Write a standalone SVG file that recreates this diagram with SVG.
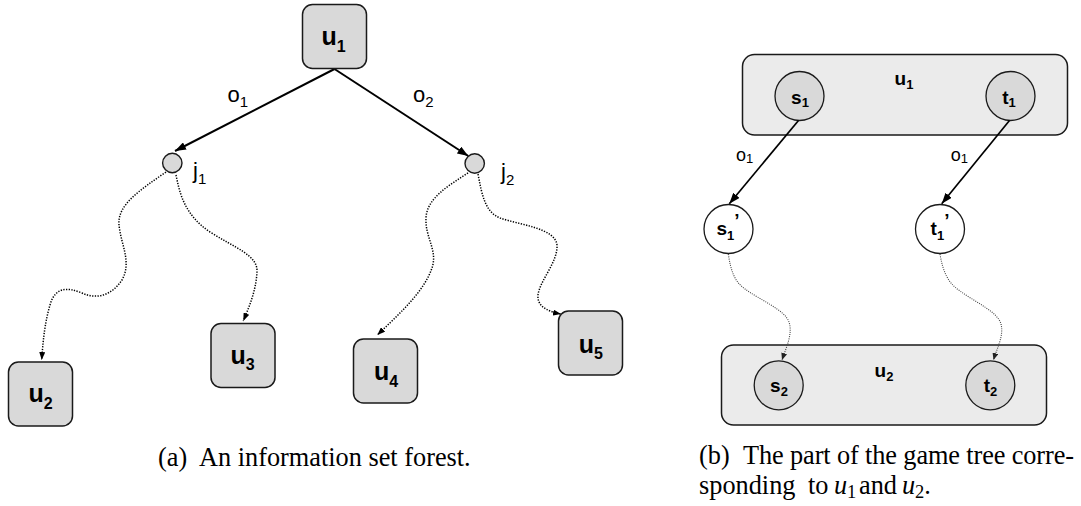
<svg xmlns="http://www.w3.org/2000/svg" width="1081" height="506" viewBox="0 0 1081 506">
  <style>
    .box { fill: #d9d9d9; stroke: #1a1a1a; stroke-width: 1.5; }
    .set { fill: #ebebeb; stroke: #1a1a1a; stroke-width: 1.5; }
    .st { fill: #d9d9d9; stroke: #1a1a1a; stroke-width: 1.3; }
    .st-open { fill: #ffffff; stroke: #1a1a1a; stroke-width: 1.3; }
    .jn { fill: #d9d9d9; stroke: #1a1a1a; stroke-width: 1.4; }
    .solid { fill: none; stroke: #000; stroke-width: 2; }
    .solid-b { fill: none; stroke: #000; stroke-width: 1.7; }
    .dot { fill: none; stroke: #000; stroke-width: 1.5; stroke-dasharray: 1.3 1.4; }
    .dot-b { fill: none; stroke: #444; stroke-width: 1.1; stroke-dasharray: 1 1.2; }
    .ub { font-family: "Liberation Sans", Arial, sans-serif; font-weight: bold; font-size: 25px; fill: #000; text-anchor: middle; }
    .ub .sb { font-size: 16px; }
    .lab { font-family: "Liberation Sans", Arial, sans-serif; font-size: 22px; fill: #000; }
    .lab .sb { font-size: 15px; }
    .nb { font-family: "Liberation Sans", Arial, sans-serif; font-weight: bold; font-size: 19px; fill: #000; text-anchor: middle; }
    .nb .sb { font-size: 13px; }
    .lab-s { font-family: "Liberation Sans", Arial, sans-serif; font-size: 18px; fill: #000; }
    .lab-s .sb { font-size: 13px; }
    .cap { font-family: "Liberation Serif", "Times New Roman", serif; font-size: 26.3px; fill: #000; }
    .mi { font-style: italic; }
    .md { font-size: 18.5px; }
  </style>
  <defs>
    <marker id="arr" viewBox="0 0 11 8" refX="11" refY="4" markerWidth="11" markerHeight="8" markerUnits="userSpaceOnUse" orient="auto">
      <path d="M0,0 L11,4 L0,8 z" fill="#000"/>
    </marker>
    <marker id="arr-s" viewBox="0 0 8 6" refX="8" refY="3" markerWidth="8" markerHeight="6" markerUnits="userSpaceOnUse" orient="auto">
      <path d="M0,0 L8,3 L0,6 z" fill="#000"/>
    </marker>
    <marker id="arr-g" viewBox="0 0 7 6" refX="7" refY="3" markerWidth="7" markerHeight="6" markerUnits="userSpaceOnUse" orient="auto">
      <path d="M0,0 L7,3 L0,6 z" fill="#222"/>
    </marker>
  </defs>

  <!-- (a) information set forest -->
  <g id="connectors-a">
    <line class="solid" x1="334.5" y1="69" x2="175" y2="151" marker-end="url(#arr)"/>
    <line class="solid" x1="334.5" y1="69" x2="468.3" y2="156" marker-end="url(#arr)"/>
    <path class="dot" d="M166,172 C140,190 117,205 119,225 C121,245 132,262 122,280 C112,295 97,300 82,293 C67,287 55,287 50,305 C45,322 43,340 41.7,360" marker-end="url(#arr-s)"/>
    <path class="dot" d="M176,175 C180,195 185,215 210,232 C235,248 258,255 257,272 C256,290 250,305 243.3,321" marker-end="url(#arr-s)"/>
    <path class="dot" d="M468,173 C448,186 427,198 426,218 C425,238 438,250 432,268 C424,292 398,315 377.3,335" marker-end="url(#arr-s)"/>
    <path class="dot" d="M478,174 C482,195 485,212 500,218 C520,225 555,228 557,245 C558,262 540,280 538,295 C537,305 545,311 561,314" marker-end="url(#arr-s)"/>
    <text class="lab" x="227.5" y="101.7">o<tspan class="sb" dy="5.6">1</tspan></text>
    <text class="lab" x="413" y="101.7">o<tspan class="sb" dy="5.6">2</tspan></text>
  </g>

  <g id="node-u1">
    <rect class="box" x="302.5" y="4.5" width="64" height="64" rx="10"/>
    <text class="ub" x="333.5" y="45">u<tspan class="sb" dy="6.5">1</tspan></text>
  </g>
  <g id="node-j1">
    <circle class="jn" cx="172.3" cy="163" r="9.7"/>
    <text class="lab" x="193" y="178">j<tspan class="sb" dy="6.3">1</tspan></text>
  </g>
  <g id="node-j2">
    <circle class="jn" cx="474.7" cy="163.5" r="9.7"/>
    <text class="lab" x="501" y="179">j<tspan class="sb" dy="6.3">2</tspan></text>
  </g>
  <g id="node-u2">
    <rect class="box" x="8.5" y="362" width="64" height="64" rx="10"/>
    <text class="ub" x="40.5" y="402">u<tspan class="sb" dy="6.5">2</tspan></text>
  </g>
  <g id="node-u3">
    <rect class="box" x="211" y="323.5" width="64" height="64" rx="10"/>
    <text class="ub" x="242.5" y="363.5">u<tspan class="sb" dy="6.5">3</tspan></text>
  </g>
  <g id="node-u4">
    <rect class="box" x="353.5" y="339" width="64" height="64" rx="10"/>
    <text class="ub" x="386" y="380">u<tspan class="sb" dy="6.5">4</tspan></text>
  </g>
  <g id="node-u5">
    <rect class="box" x="558.5" y="311" width="64" height="64" rx="10"/>
    <text class="ub" x="590.8" y="352.5">u<tspan class="sb" dy="6.5">5</tspan></text>
  </g>

  <text class="cap" x="158" y="466">(a)</text>
  <text class="cap" x="199" y="466">An information set forest.</text>

  <!-- (b) game tree fragment for u1 and u2 -->
  <g id="node-set-u1">
    <rect class="set" x="742.5" y="54.5" width="325" height="80.5" rx="12"/>
    <text class="nb" x="904" y="85">u<tspan class="sb" dy="3.5">1</tspan></text>
  </g>
  <g id="node-set-u2">
    <rect class="set" x="721.5" y="345" width="325" height="80" rx="12"/>
    <text class="nb" x="884" y="376.7">u<tspan class="sb" dy="4">2</tspan></text>
  </g>
  <g id="node-s1">
    <circle class="st" cx="799.5" cy="96" r="24.5"/>
    <text class="nb" x="800" y="103.5">s<tspan class="sb" dy="3.5">1</tspan></text>
  </g>
  <g id="node-t1">
    <circle class="st" cx="1010.5" cy="96" r="24.5"/>
    <text class="nb" x="1009" y="103.5">t<tspan class="sb" dy="3.5">1</tspan></text>
  </g>
  <g id="node-s1p">
    <circle class="st-open" cx="728.5" cy="229" r="24.5"/>
    <text class="nb" x="728" y="235">s<tspan class="sb" dy="5">1</tspan><tspan dy="-13">’</tspan></text>
  </g>
  <g id="node-t1p">
    <circle class="st-open" cx="940" cy="229" r="24.5"/>
    <text class="nb" x="940" y="235">t<tspan class="sb" dy="5">1</tspan><tspan dy="-13">’</tspan></text>
  </g>
  <g id="node-s2">
    <circle class="st" cx="778.7" cy="385.3" r="24.5"/>
    <text class="nb" x="779" y="391.7">s<tspan class="sb" dy="4">2</tspan></text>
  </g>
  <g id="node-t2">
    <circle class="st" cx="990.3" cy="385.3" r="24.5"/>
    <text class="nb" x="990.5" y="391.7">t<tspan class="sb" dy="4">2</tspan></text>
  </g>

  <g id="connectors-b">
    <line class="solid-b" x1="798.5" y1="120.5" x2="729.3" y2="203.8" marker-end="url(#arr)"/>
    <line class="solid-b" x1="1009.5" y1="120.5" x2="941.7" y2="203.8" marker-end="url(#arr)"/>
    <path class="dot-b" d="M728.3,254 C731,272 735,282 745,289 C760,300 785,310 789,322 C793,334 786,348 782,360" marker-end="url(#arr-g)"/>
    <path class="dot-b" d="M940,254 C943,272 948,283 960,291 C975,302 998,312 1001,324 C1004,336 997,348 993.5,360" marker-end="url(#arr-g)"/>
    <text class="lab-s" x="736" y="160.7">o<tspan class="sb" dy="1.8">1</tspan></text>
    <text class="lab-s" x="950.7" y="160.7">o<tspan class="sb" dy="1.8">1</tspan></text>
  </g>

  <text class="cap" x="699" y="464">(b)</text>
  <text class="cap" x="743" y="464" textLength="331" lengthAdjust="spacing">The part of the game tree corre-</text>
  <text class="cap" x="699" y="494">sponding</text>
  <text class="cap" x="808" y="494">to</text>
  <text class="cap" y="494"><tspan class="mi" x="834">u</tspan><tspan class="md" x="847" dy="3.5">1</tspan></text>
  <text class="cap" x="859" y="494">and</text>
  <text class="cap" y="494"><tspan class="mi" x="902">u</tspan><tspan class="md" x="915" dy="3.5">2</tspan><tspan dy="-3.5">.</tspan></text>
</svg>
